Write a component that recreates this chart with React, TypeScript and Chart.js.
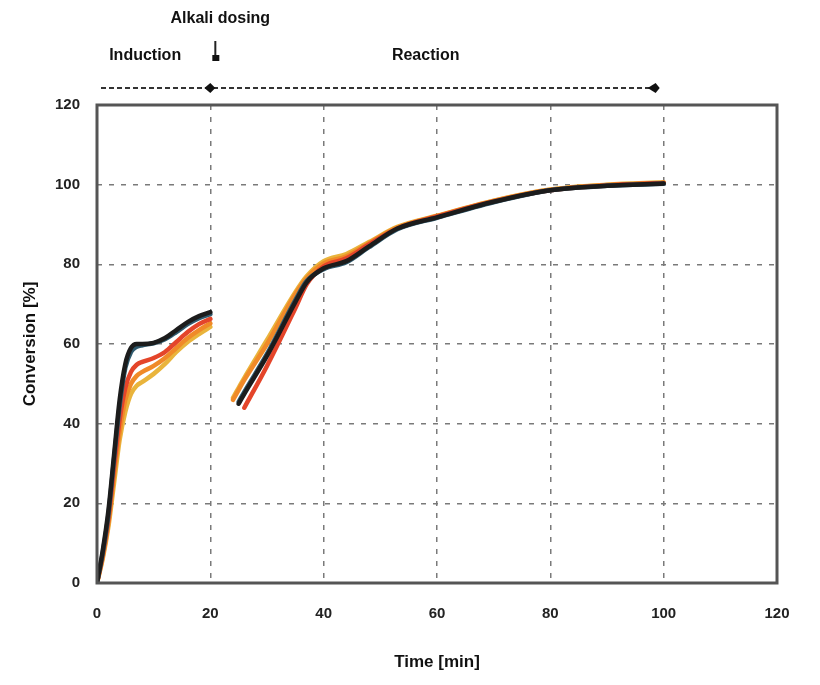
import React, { useEffect, useRef } from "react";
import { Chart, registerables } from "chart.js";

Chart.register(...registerables);

const xTicks = [0, 20, 40, 60, 80, 100, 120];
const yTicks = [0, 20, 40, 60, 80, 100, 120];

// segment 1 (induction)
const x1 = [0, 1, 2, 3, 4, 5, 6, 7, 8, 10, 12, 14, 16, 18, 20];
const black1 = [0, 8, 18, 32, 46, 55, 59, 60, 60, 60.3, 61.5, 63.5, 65.5, 67, 68];
const blue1 = [0, 7.5, 17, 31, 44.5, 54, 58, 59.3, 59.7, 60.2, 61.2, 63, 65, 66.5, 67.5];
const red1 = [0, 7, 16, 29, 41, 49, 53, 54.8, 55.5, 56.5, 58, 60.5, 63, 65, 66.3];
const orange1 = [0, 6.5, 15, 27, 38, 46, 50, 52, 53, 54.5, 56.5, 59, 61.5, 63.5, 65.2];
const yellow1 = [0, 6, 14, 25, 36, 43, 47.5, 49.5, 50.5, 52.5, 55, 58, 60.5, 62.5, 64.3];

// segment 2 (reaction)
const x2 = [24, 25, 26, 30, 35, 37, 40, 44, 48, 53, 60, 70, 80, 90, 100];
const black2 = [null, 45, 47.5, 57, 70.5, 75.5, 79, 80.8, 84.5, 89, 91.8, 95.7, 98.6, 99.7, 100.3];
const blue2 = [null, 45.5, 48, 57.5, 71, 75.8, 78.8, 80.5, 84.3, 88.8, 91.7, 95.6, 98.6, 99.7, 100.2];
const red2 = [null, null, 44, 54.5, 69, 75, 79.5, 81.5, 85, 89, 92, 95.8, 98.6, 99.8, 100.4];
const orange2 = [46, 48.5, 51, 60, 72.5, 76.5, 80.2, 82, 85.3, 89.2, 92.1, 95.9, 98.7, 99.9, 100.5];
const yellow2 = [46.5, 49, 51.5, 61, 73, 77, 80.8, 82.6, 85.6, 89.4, 92.2, 96, 98.8, 100, 100.6];

// listed top-most first (Chart.js draws the first dataset on top)
const seriesNames = ["Black", "Blue", "Red", "Orange", "Yellow"];
const seriesColors = ["#1c1c1c", "#2f5a6e", "#e4452a", "#f08a28", "#e9b43c"];
const seg1 = [black1, blue1, red1, orange1, yellow1];
const seg2 = [black2, blue2, red2, orange2, yellow2];

const topLabels = ["Alkali dosing", "Induction", "Reaction"];
const dosingTime = 20;
const endTime = 100;

function buildData(i: number) {
  const pts: { x: number; y: number | null }[] = [];
  x1.forEach((x, k) => pts.push({ x, y: seg1[i][k] }));
  pts.push({ x: 22, y: null });
  x2.forEach((x, k) => {
    if (seg2[i][k] !== null) pts.push({ x, y: seg2[i][k] });
  });
  return pts;
}

const framePlugin = {
  id: "frameAndTop",
  afterDraw(chart: any) {
    const { ctx, chartArea, scales } = chart;
    const xs = scales.x;
    ctx.save();
    // frame
    ctx.strokeStyle = "#555";
    ctx.lineWidth = 3;
    ctx.strokeRect(chartArea.left, chartArea.top, chartArea.right - chartArea.left, chartArea.bottom - chartArea.top);

    // top timeline
    const ly = 80;
    const x0 = xs.getPixelForValue(0) + 4;
    const xd = xs.getPixelForValue(dosingTime);
    const xe = xs.getPixelForValue(endTime) - 8;
    ctx.strokeStyle = "#333";
    ctx.lineWidth = 2;
    ctx.setLineDash([5, 3]);
    ctx.beginPath();
    ctx.moveTo(x0, ly);
    ctx.lineTo(xe, ly);
    ctx.stroke();
    ctx.setLineDash([]);
    ctx.fillStyle = "#111";
    // marker at dosing
    ctx.beginPath();
    ctx.moveTo(xd - 6, ly);
    ctx.lineTo(xd, ly - 5);
    ctx.lineTo(xd + 5, ly);
    ctx.lineTo(xd, ly + 5);
    ctx.closePath();
    ctx.fill();
    // arrow end
    ctx.beginPath();
    ctx.moveTo(xe - 8, ly);
    ctx.lineTo(xe, ly - 5);
    ctx.lineTo(xe + 4, ly);
    ctx.lineTo(xe, ly + 5);
    ctx.closePath();
    ctx.fill();

    // dosing symbol
    const sx = xd + 5;
    ctx.strokeStyle = "#222";
    ctx.lineWidth = 2;
    ctx.beginPath();
    ctx.moveTo(sx, 33);
    ctx.lineTo(sx, 48);
    ctx.stroke();
    ctx.fillRect(sx - 3, 47, 7, 6);

    // labels
    ctx.fillStyle = "#111";
    ctx.font = "bold 16px 'Liberation Sans', Arial, sans-serif";
    ctx.textAlign = "center";
    ctx.textBaseline = "middle";
    ctx.fillText(topLabels[0], xd + 10, 11);
    ctx.fillText(topLabels[1], xs.getPixelForValue(8.5), 48);
    ctx.fillText(topLabels[2], xs.getPixelForValue(58), 48);
    ctx.restore();
  },
};

export default function App() {
  const ref = useRef<HTMLCanvasElement>(null);
  useEffect(() => {
    if (!ref.current) return;
    const chart = new Chart(ref.current, {
      type: "line",
      data: {
        datasets: seriesNames.map((name, i) => ({
          label: name,
          data: buildData(i) as any,
          borderColor: seriesColors[i],
          backgroundColor: seriesColors[i],
          borderWidth: 4.5,
          pointRadius: 0,
          cubicInterpolationMode: "monotone",
          spanGaps: false,
          borderCapStyle: "round",
          borderJoinStyle: "round",
        })),
      },
      options: {
        animation: false,
        responsive: false,
        layout: { padding: { top: 97, left: 12, right: 35, bottom: 0 } },
        plugins: { legend: { display: false }, tooltip: { enabled: false } },
        scales: {
          x: {
            type: "linear",
            min: 0,
            max: 120,
            afterBuildTicks(scale: any) {
              scale.ticks = xTicks.map((v) => ({ value: v }));
            },
            afterFit(scale: any) {
              scale.height = 94;
            },
            grid: { color: "#7a7a7a", lineWidth: 1.5, drawTicks: false },
            border: { display: false, dash: [5, 7] },
            ticks: {
              color: "#222",
              padding: 22,
              font: { family: "'Liberation Sans', Arial, sans-serif", size: 15, weight: "bold" },
            },
            title: {
              display: true,
              text: "Time [min]",
              color: "#111",
              padding: { top: 8 },
              font: { family: "'Liberation Sans', Arial, sans-serif", size: 17, weight: "bold" },
            },
          },
          y: {
            type: "linear",
            min: 0,
            max: 120,
            afterBuildTicks(scale: any) {
              scale.ticks = yTicks.map((v) => ({ value: v }));
            },
            afterFit(scale: any) {
              scale.width = 77;
            },
            grid: { color: "#7a7a7a", lineWidth: 1.5, drawTicks: false },
            border: { display: false, dash: [5, 7] },
            ticks: {
              color: "#222",
              padding: 17,
              font: { family: "'Liberation Sans', Arial, sans-serif", size: 15, weight: "bold" },
            },
            title: {
              display: true,
              text: "Conversion [%]",
              color: "#111",
              padding: { top: 0, bottom: 6 },
              font: { family: "'Liberation Sans', Arial, sans-serif", size: 17, weight: "bold" },
            },
          },
        },
      },
      plugins: [framePlugin],
    });
    return () => chart.destroy();
  }, []);
  return (
    <div style={{ width: 804, height: 669 }}>
      <canvas ref={ref} width={804} height={669} />
    </div>
  );
}
